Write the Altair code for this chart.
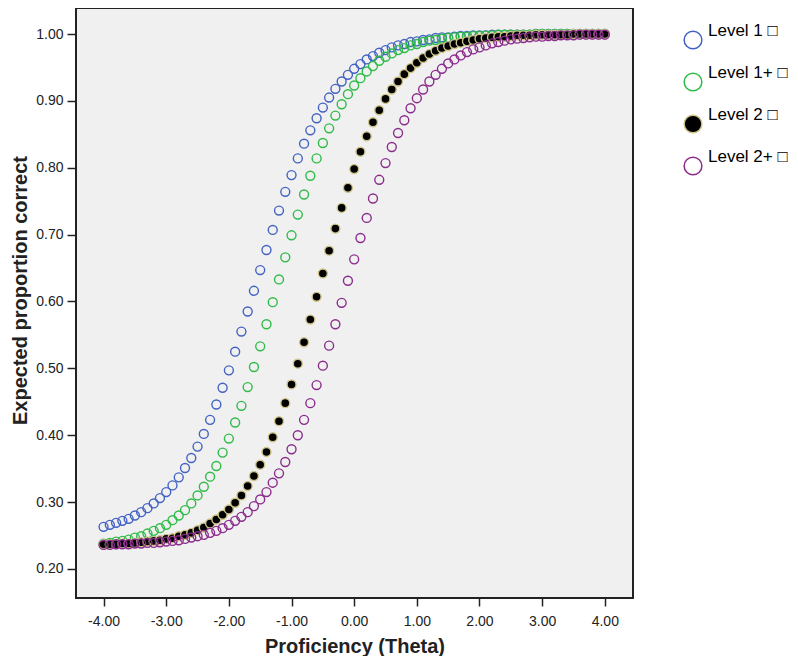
import altair as alt
import pandas as pd

theta = [
    -4.0, -3.9, -3.8, -3.7, -3.6, -3.5, -3.4, -3.3, -3.2, -3.1,
    -3.0, -2.9, -2.8, -2.7, -2.6, -2.5, -2.4, -2.3, -2.2, -2.1,
    -2.0, -1.9, -1.8, -1.7, -1.6, -1.5, -1.4, -1.3, -1.2, -1.1,
    -1.0, -0.9, -0.8, -0.7, -0.6, -0.5, -0.4, -0.3, -0.2, -0.1,
    0.0, 0.1, 0.2, 0.3, 0.4, 0.5, 0.6, 0.7, 0.8, 0.9,
    1.0, 1.1, 1.2, 1.3, 1.4, 1.5, 1.6, 1.7, 1.8, 1.9,
    2.0, 2.1, 2.2, 2.3, 2.4, 2.5, 2.6, 2.7, 2.8, 2.9,
    3.0, 3.1, 3.2, 3.3, 3.4, 3.5, 3.6, 3.7, 3.8, 3.9,
    4.0,
]

level_1 = [
    0.263, 0.266, 0.269, 0.272, 0.275, 0.280, 0.285, 0.291, 0.298, 0.306,
    0.315, 0.325, 0.337, 0.351, 0.366, 0.383, 0.402, 0.423, 0.446, 0.471,
    0.497, 0.525, 0.555, 0.585, 0.616, 0.647, 0.677, 0.707, 0.736, 0.764,
    0.789, 0.814, 0.836, 0.856, 0.874, 0.890, 0.905, 0.918, 0.929, 0.939,
    0.948, 0.955, 0.962, 0.967, 0.972, 0.976, 0.980, 0.983, 0.985, 0.988,
    0.989, 0.991, 0.992, 0.994, 0.995, 0.995, 0.996, 0.997, 0.997, 0.998,
    0.998, 0.998, 0.999, 0.999, 0.999, 0.999, 0.999, 0.999, 0.999, 1.000,
    1.000, 1.000, 1.000, 1.000, 1.000, 1.000, 1.000, 1.000, 1.000, 1.000,
    1.000,
]

level_1_plus = [
    0.238, 0.239, 0.241, 0.242, 0.244, 0.247, 0.249, 0.253, 0.257, 0.261,
    0.266, 0.273, 0.280, 0.288, 0.298, 0.310, 0.323, 0.338, 0.354, 0.374,
    0.395, 0.419, 0.444, 0.472, 0.502, 0.533, 0.566, 0.599, 0.633, 0.666,
    0.699, 0.730, 0.760, 0.788, 0.814, 0.837, 0.859, 0.878, 0.895, 0.910,
    0.923, 0.934, 0.944, 0.952, 0.960, 0.966, 0.971, 0.976, 0.979, 0.983,
    0.985, 0.988, 0.990, 0.991, 0.993, 0.994, 0.995, 0.996, 0.996, 0.997,
    0.997, 0.998, 0.998, 0.999, 0.999, 0.999, 0.999, 0.999, 0.999, 1.000,
    1.000, 1.000, 1.000, 1.000, 1.000, 1.000, 1.000, 1.000, 1.000, 1.000,
    1.000,
]

level_2 = [
    0.237, 0.237, 0.237, 0.238, 0.238, 0.239, 0.240, 0.241, 0.242, 0.243,
    0.245, 0.246, 0.249, 0.251, 0.254, 0.258, 0.262, 0.268, 0.274, 0.281,
    0.289, 0.299, 0.310, 0.324, 0.339, 0.356, 0.375, 0.397, 0.421, 0.448,
    0.476, 0.507, 0.539, 0.573, 0.607, 0.642, 0.676, 0.709, 0.740, 0.770,
    0.798, 0.824, 0.847, 0.868, 0.886, 0.903, 0.917, 0.929, 0.940, 0.949,
    0.957, 0.964, 0.970, 0.975, 0.979, 0.982, 0.985, 0.987, 0.989, 0.991,
    0.993, 0.994, 0.995, 0.996, 0.996, 0.997, 0.998, 0.998, 0.998, 0.999,
    0.999, 0.999, 0.999, 0.999, 0.999, 1.000, 1.000, 1.000, 1.000, 1.000,
    1.000,
]

level_2_plus = [
    0.236, 0.236, 0.237, 0.237, 0.237, 0.238, 0.238, 0.239, 0.239, 0.240,
    0.241, 0.242, 0.243, 0.245, 0.247, 0.249, 0.251, 0.254, 0.257, 0.261,
    0.266, 0.272, 0.278, 0.285, 0.294, 0.304, 0.315, 0.329, 0.343, 0.360,
    0.379, 0.400, 0.423, 0.448, 0.475, 0.504, 0.534, 0.566, 0.598, 0.631,
    0.663, 0.695, 0.725, 0.754, 0.782, 0.807, 0.831, 0.852, 0.871, 0.889,
    0.904, 0.917, 0.929, 0.939, 0.948, 0.956, 0.962, 0.968, 0.973, 0.977,
    0.980, 0.983, 0.986, 0.988, 0.990, 0.992, 0.993, 0.994, 0.995, 0.996,
    0.996, 0.997, 0.997, 0.998, 0.998, 0.998, 0.999, 0.999, 0.999, 0.999,
    0.999,
]

levels = ["Level 1", "Level 1+", "Level 2", "Level 2+"]
stroke_colors = ["#4262c2", "#2fbb48", "#cfc48a", "#8a2c8c"]
fill_colors = ["transparent", "transparent", "#000000", "transparent"]
x_ticks = [-4, -3, -2, -1, 0, 1, 2, 3, 4]
y_ticks = [0.2, 0.3, 0.4, 0.5, 0.6, 0.7, 0.8, 0.9, 1.0]

rows = []
for name, vals in zip(levels, [level_1, level_1_plus, level_2, level_2_plus]):
    for t, v in zip(theta, vals):
        rows.append({"theta": t, "p": v, "level": name})
df = pd.DataFrame(rows)

FONT = "Liberation Sans"
TICK_LABEL = "replace(format(datum.value, '.2f'), '\u2212', '-')"

legend_cfg = dict(
    title=None,
    orient="none",
    legendX=607,
    legendY=22,
    padding=0,
    symbolType="circle",
    symbolSize=314,
    symbolStrokeWidth=1.5,
    labelFont=FONT,
    labelFontSize=17,
    labelColor="#000000",
    labelOffset=5,
    labelBaseline="bottom",
    rowPadding=12,
    labelExpr="datum.label + ' \u25a1'",
)

chart = (
    alt.Chart(df)
    .mark_point(filled=False, size=80, strokeWidth=1.4, opacity=1)
    .encode(
        x=alt.X(
            "theta:Q",
            scale=alt.Scale(domain=[-4.44, 4.45], nice=False, zero=False),
            axis=alt.Axis(
                values=x_ticks,
                labelExpr=TICK_LABEL,
                title="Proficiency (Theta)",
                titleFont=FONT,
                titleFontSize=20,
                titleFontWeight="bold",
                titleColor="#222222",
                titleAlign="center",
                titleBaseline="middle",
                titleY=48,
                labelFont=FONT,
                labelFontSize=14,
                labelColor="#222222",
                labelPadding=8,
                tickSize=8,
                tickWidth=1.5,
                tickColor="#222222",
                domain=False,
                grid=False,
            ),
        ),
        y=alt.Y(
            "p:Q",
            scale=alt.Scale(domain=[0.1566, 1.0389], nice=False, zero=False),
            axis=alt.Axis(
                values=y_ticks,
                labelExpr=TICK_LABEL,
                title="Expected proportion correct",
                titleFont=FONT,
                titleFontSize=20,
                titleFontWeight="bold",
                titleColor="#222222",
                titleAlign="center",
                titleBaseline="middle",
                titleX=-56,
                titleY=282,
                labelFont=FONT,
                labelFontSize=14,
                labelColor="#222222",
                labelPadding=4,
                tickSize=9,
                tickWidth=1.5,
                tickColor="#222222",
                domain=False,
                grid=False,
            ),
        ),
        color=alt.Color(
            "level:N",
            scale=alt.Scale(domain=levels, range=stroke_colors),
            legend=alt.Legend(**legend_cfg),
        ),
        fill=alt.Fill(
            "level:N",
            scale=alt.Scale(domain=levels, range=fill_colors),
            legend=alt.Legend(**legend_cfg),
        ),
    )
    .properties(
        width=557,
        height=590,
        autosize=alt.AutoSizeParams(type="none"),
        padding={"left": 68, "top": 0, "right": 157, "bottom": 58},
        background="#ffffff",
    )
    .configure_view(stroke="#222222", strokeWidth=2, fill="#f0f0f0")
)

chart.save("out.html", embed_options={"renderer": "svg", "actions": False})
